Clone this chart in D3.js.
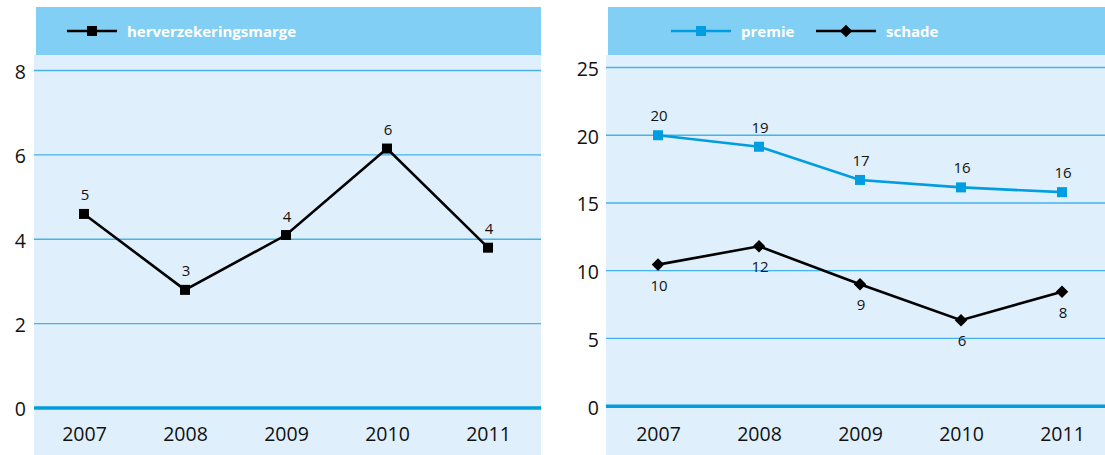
<!DOCTYPE html>
<html><head><meta charset="utf-8">
<script src="https://cdn.jsdelivr.net/npm/d3@7"></script>
<style>body{margin:0;background:#fff}svg{display:block;font-family:"Open Sans",sans-serif}</style>
</head><body><svg id="c" width="1105" height="455"></svg>
<script>
const years = ["2007","2008","2009","2010","2011"];
const marge = [4.6, 2.8, 4.1, 6.15, 3.8];
const margeLabels = ["5","3","4","6","4"];
const premie = [20.0, 19.15, 16.7, 16.15, 15.8];
const premieLabels = ["20","19","17","16","16"];
const schade = [10.45, 11.8, 9.0, 6.35, 8.45];
const schadeLabels = ["10","12","9","6","8"];
const leftTicks = [0,2,4,6,8];
const rightTicks = [0,5,10,15,20,25];

const svg = d3.select("#c");
const HEADER = "#82cff5", BG = "#dff0fc", GRID = "#45b3ea", ZERO = "#009de0", BLUE = "#009de0";

function panel(o) {
  const g = svg.append("g");
  g.append("rect").attr("x", o.bgX0).attr("y", 55).attr("width", o.bgX1 - o.bgX0).attr("height", 400).attr("fill", BG);
  g.append("rect").attr("x", o.bgX0 + 2).attr("y", 7).attr("width", o.bgX1 - o.bgX0 - 2).attr("height", 48).attr("fill", HEADER);
  const x = d3.scalePoint().domain(years).range(o.xRange);
  const y = d3.scaleLinear().domain(o.yDomain).range(o.yRange);
  g.selectAll(".grid").data(o.ticks.filter(t => t !== 0)).join("line")
    .attr("x1", o.bgX0).attr("x2", o.bgX1).attr("y1", d => y(d)).attr("y2", d => y(d))
    .attr("stroke", GRID).attr("stroke-width", 1.3);
  g.append("line").attr("x1", o.bgX0).attr("x2", o.bgX1).attr("y1", y(0)).attr("y2", y(0))
    .attr("stroke", ZERO).attr("stroke-width", 3.5);
  const ya = d3.axisLeft(y).tickValues(o.ticks).tickSize(0).tickPadding(0).tickFormat(d3.format("d"));
  const yg = g.append("g").attr("transform", `translate(${o.tickX},0)`).call(ya);
  yg.select(".domain").remove();
  yg.selectAll("text").attr("font-size", 19.5).attr("fill", "#111").attr("font-family", '"Open Sans",sans-serif').attr("dy", "0.4em");
  const xa = d3.axisBottom(x).tickSize(0).tickPadding(0);
  const xg = g.append("g").attr("transform", "translate(0,426)").call(xa);
  xg.select(".domain").remove();
  xg.selectAll("text").attr("font-size", 19.5).attr("fill", "#111").attr("font-family", '"Open Sans",sans-serif').attr("dy", "0.75em");
  return {g, x, y};
}

function symFor(shape) {
  return shape === "square" ? d3.symbol(d3.symbolSquare, 100) : d3.symbol(d3.symbolDiamond2, 100);
}

function series(p, vals, labels, color, shape, labelDy) {
  const line = d3.line().x((d, i) => p.x(years[i])).y(d => p.y(d));
  p.g.append("path").datum(vals).attr("d", line).attr("fill", "none").attr("stroke", color).attr("stroke-width", 2.6);
  p.g.selectAll(null).data(vals).join("path")
    .attr("d", symFor(shape))
    .attr("transform", (d, i) => `translate(${p.x(years[i])},${p.y(d)})`)
    .attr("fill", color);
  p.g.selectAll(null).data(vals).join("text")
    .attr("x", (d, i) => p.x(years[i]) + 1).attr("y", d => p.y(d) + labelDy)
    .attr("text-anchor", "middle").attr("dominant-baseline", "central")
    .attr("font-size", 15).attr("fill", "#111").text((d, i) => labels[i]);
}

function legendItem(g, x0, w, color, shape, label) {
  g.append("line").attr("x1", x0).attr("x2", x0 + w).attr("y1", 31).attr("y2", 31)
    .attr("stroke", color).attr("stroke-width", 2.6);
  g.append("path").attr("d", symFor(shape)).attr("transform", `translate(${x0 + w / 2},31)`).attr("fill", color);
  g.append("text").attr("x", x0 + w + 10).attr("y", 31).attr("dominant-baseline", "central")
    .attr("font-size", 15).attr("font-weight", "bold").attr("fill", "#fff").text(label);
}

const L = panel({bgX0: 34, bgX1: 541, xRange: [84, 488], yDomain: [0, 8], yRange: [408, 70.5], ticks: leftTicks, tickX: 26});
series(L, marge, margeLabels, "#000", "square", -19.5);
legendItem(L.g, 67, 50, "#000", "square", "herverzekeringsmarge");

const R = panel({bgX0: 606, bgX1: 1105, xRange: [658, 1062], yDomain: [0, 25], yRange: [406.2, 67.5], ticks: rightTicks, tickX: 599});
series(R, premie, premieLabels, BLUE, "square", -20);
series(R, schade, schadeLabels, "#000", "diamond", 20);
legendItem(R.g, 671, 60, BLUE, "square", "premie");
legendItem(R.g, 816, 60, "#000", "diamond", "schade");
</script></body></html>
